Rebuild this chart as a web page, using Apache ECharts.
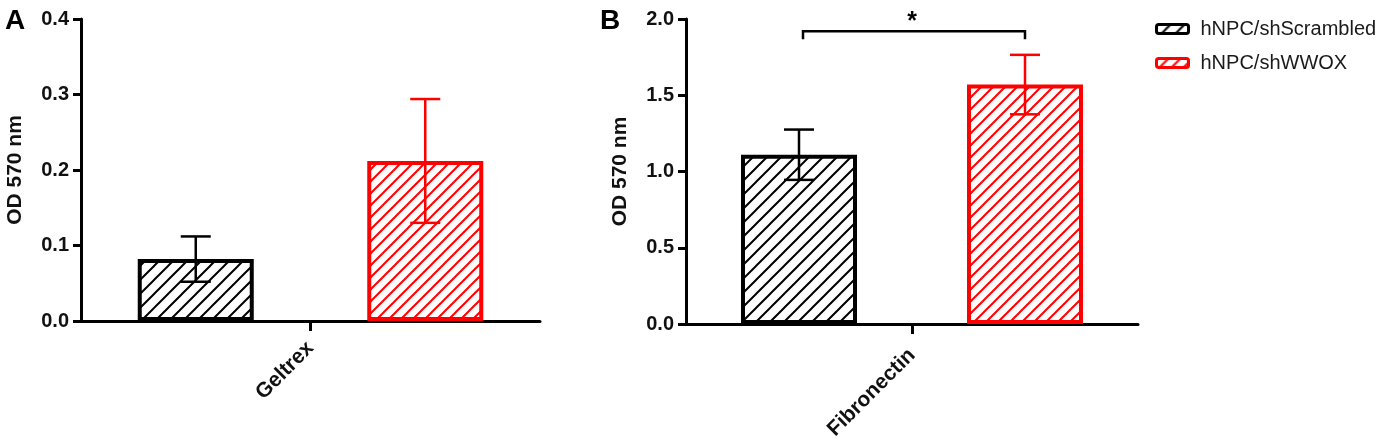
<!DOCTYPE html>
<html>
<head>
<meta charset="utf-8">
<script src="https://cdn.jsdelivr.net/npm/echarts@6/dist/echarts.min.js"></script>
<style>
  html, body { margin: 0; padding: 0; background: #fff; }
  #chart { width: 1388px; height: 438px; }
</style>
</head>
<body>
<div id="chart"></div>
<script>
// data
const groups = ['hNPC/shScrambled', 'hNPC/shWWOX'];
const groupColors = ['#000000', '#ff0000'];
const categoriesA = ['Geltrex'];
const categoriesB = ['Fibronectin'];
const meanA = [0.082, 0.212];
const sdA = [0.030, 0.082];
const meanB = [1.11, 1.57];
const sdB = [0.165, 0.195];
const yAxisA = { max: 0.4, step: 0.1 };
const yAxisB = { max: 2.0, step: 0.5 };
const sigPairB = [0, 1];
const sigLevelB = 1.92;
const sigMarkB = '*';
const yName = 'OD 570 nm';

const FONT = "'Liberation Sans', Arial, sans-serif";

// diagonal hatch (like "/") as a canvas pattern
function hatch(color, step) {
  const c = document.createElement('canvas');
  c.width = step; c.height = step;
  const ctx = c.getContext('2d');
  ctx.fillStyle = '#fff';
  ctx.fillRect(0, 0, step, step);
  ctx.strokeStyle = color;
  ctx.lineWidth = 2;
  ctx.beginPath();
  ctx.moveTo(0, step); ctx.lineTo(step, 0);
  ctx.moveTo(-2, 2); ctx.lineTo(2, -2);
  ctx.moveTo(step - 2, step + 2); ctx.lineTo(step + 2, step - 2);
  ctx.stroke();
  return { image: c, repeat: 'repeat' };
}
const patterns = [hatch('#000', 14), hatch('#ff0000', 12)];

var chartDom = document.getElementById('chart');
var myChart = echarts.init(chartDom);

function errorBars(color) {
  return function (params, api) {
    const x = api.value(0), m = api.value(1), s = api.value(2);
    const top = api.coord([x, m + s]);
    const bot = api.coord([x, m - s]);
    const hw = 15;
    const st = { stroke: color, lineWidth: 2.5 };
    return {
      type: 'group',
      children: [
        { type: 'line', shape: { x1: top[0], y1: top[1], x2: bot[0], y2: bot[1] }, style: st },
        { type: 'line', shape: { x1: top[0] - hw, y1: top[1], x2: top[0] + hw, y2: top[1] }, style: st },
        { type: 'line', shape: { x1: bot[0] - hw, y1: bot[1], x2: bot[0] + hw, y2: bot[1] }, style: st }
      ]
    };
  };
}

function bracket(params, api) {
  const y = api.value(2);
  const p0 = api.coord([api.value(0), y]);
  const p1 = api.coord([api.value(1), y]);
  const drop = 8;
  return {
    type: 'group',
    children: [
      {
        type: 'polyline',
        shape: { points: [[p0[0] + 4, p0[1] + drop], [p0[0] + 4, p0[1]], [p1[0], p1[1]], [p1[0], p1[1] + drop]] },
        style: { stroke: '#000', lineWidth: 2.5, fill: null }
      },
      {
        type: 'text',
        x: (p0[0] + p1[0]) / 2, y: p0[1] + 3,
        style: { text: sigMarkB, fill: '#000', font: 'bold 25px ' + FONT, align: 'center', verticalAlign: 'bottom' }
      }
    ]
  };
}

function yAxisCfg(gridIndex, ax) {
  return {
    gridIndex: gridIndex,
    type: 'value',
    position: 'left',
    min: 0, max: ax.max, interval: ax.step,
    name: yName,
    nameLocation: 'middle',
    nameGap: 55,
    nameTextStyle: { fontFamily: FONT, fontWeight: 'bold', fontSize: 21, color: '#111' },
    axisLine: { show: true, lineStyle: { color: '#000', width: 3 } },
    axisTick: { show: true, length: 8, lineStyle: { color: '#000', width: 3 } },
    axisLabel: {
      margin: 12, fontFamily: FONT, fontWeight: 'bold', fontSize: 20, color: '#111',
      formatter: v => v.toFixed(1)
    },
    splitLine: { show: false }
  };
}

function groupAxis(gridIndex) {
  return { gridIndex: gridIndex, type: 'category', position: 'top', data: groups, show: false };
}

function labelAxis(gridIndex, cats, margin) {
  return {
    gridIndex: gridIndex,
    type: 'category',
    position: 'bottom',
    data: cats,
    axisLine: { show: true, onZero: false, lineStyle: { color: '#000', width: 3 } },
    axisTick: { show: true, alignWithLabel: true, length: 10, lineStyle: { color: '#000', width: 3 } },
    axisLabel: {
      rotate: 45, margin: margin, fontFamily: FONT, fontWeight: 'bold', fontSize: 21, color: '#111'
    }
  };
}

function barSeries(xIdx, yIdx, means) {
  return groups.map((g, i) => ({
    name: g,
    type: 'bar',
    xAxisIndex: xIdx,
    yAxisIndex: yIdx,
    barWidth: 116,
    barGap: '-100%',
    itemStyle: { color: patterns[i], borderColor: groupColors[i], borderWidth: 4 },
    data: groups.map((_, j) => (j === i ? means[i] : '-'))
  }));
}

function errSeries(xIdx, yIdx, means, sds) {
  return groups.map((g, i) => ({
    type: 'custom',
    xAxisIndex: xIdx,
    yAxisIndex: yIdx,
    z: 5,
    renderItem: errorBars(groupColors[i]),
    data: [[i, means[i], sds[i]]]
  }));
}

var option = {
  animation: false,
  backgroundColor: '#fff',
  title: [
    { text: 'A', left: 0, top: 2, textStyle: { fontFamily: FONT, fontWeight: 'bold', fontSize: 28, color: '#000' } },
    { text: 'B', left: 595, top: 2, textStyle: { fontFamily: FONT, fontWeight: 'bold', fontSize: 28, color: '#000' } }
  ],
  legend: {
    data: groups,
    orient: 'vertical',
    left: 1150,
    top: 14,
    itemWidth: 32,
    itemHeight: 9,
    itemGap: 14,
    selectedMode: false,
    itemStyle: { borderWidth: 3 },
    textStyle: { fontFamily: FONT, fontSize: 20, color: '#1a1a1a', padding: [0, 0, 0, 7] }
  },
  grid: [
    { left: 81, top: 19, width: 459, height: 302, outerBoundsMode: 'none' },
    { left: 686, top: 19, width: 452, height: 305, outerBoundsMode: 'none' }
  ],
  xAxis: [
    groupAxis(0),
    labelAxis(0, categoriesA, 24),
    groupAxis(1),
    labelAxis(1, categoriesB, 28)
  ],
  yAxis: [yAxisCfg(0, yAxisA), yAxisCfg(1, yAxisB)],
  series: [
    ...barSeries(0, 0, meanA),
    ...errSeries(0, 0, meanA, sdA),
    ...barSeries(2, 1, meanB),
    ...errSeries(2, 1, meanB, sdB),
    {
      type: 'custom',
      xAxisIndex: 2,
      yAxisIndex: 1,
      z: 5,
      renderItem: bracket,
      data: [[sigPairB[0], sigPairB[1], sigLevelB]]
    }
  ]
};
option && myChart.setOption(option);
</script>
</body>
</html>
